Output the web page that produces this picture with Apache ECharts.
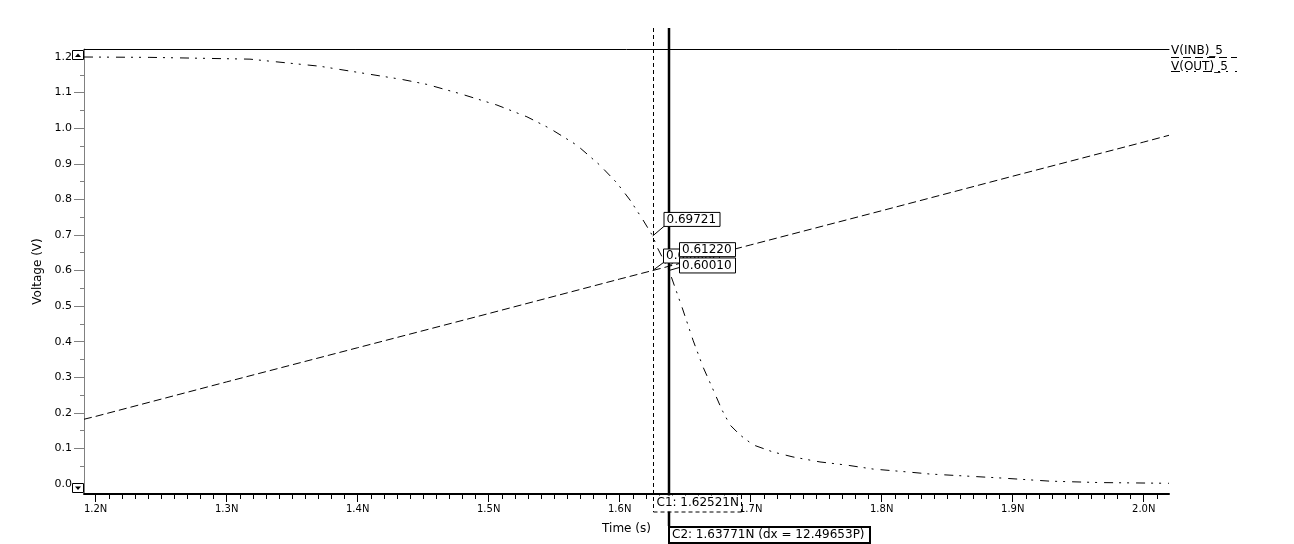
<!DOCTYPE html>
<html><head><meta charset="utf-8">
<script src="https://cdn.jsdelivr.net/npm/echarts@6/dist/echarts.min.js"></script>
<style>html,body{margin:0;padding:0;background:#fff;}#c{width:1294px;height:544px;}</style>
</head><body><div id="c"></div>
<script>
// ---- data (time in ns, voltage in V) ----
const seriesNames = ['V(INB)_5', 'V(OUT)_5'];
const inbTime = [1.1911, 1.2, 1.3, 1.4, 1.5, 1.6, 1.6252, 1.6377, 1.7, 1.8, 1.9, 2.0, 2.0193];
const inbV    = [0.182, 0.190, 0.287, 0.383, 0.479, 0.576, 0.600, 0.612, 0.672, 0.768, 0.865, 0.961, 0.980];
const outTime = [1.1911, 1.2414, 1.3178, 1.3712, 1.4338, 1.4529, 1.4781, 1.5063, 1.5292, 1.5468, 1.5674, 1.5849,
                 1.5979, 1.6079, 1.6178, 1.6252, 1.6285, 1.6377, 1.6437, 1.6483, 1.6560, 1.6636, 1.6705, 1.6781,
                 1.6842, 1.6918, 1.7018, 1.7170, 1.7323, 1.7529, 1.7735, 1.7934, 1.8193, 1.8369, 1.8903, 1.9284,
                 1.9666, 2.0193];
const outV    = [1.200, 1.199, 1.194, 1.174, 1.137, 1.123, 1.097, 1.065, 1.032, 0.999, 0.952, 0.896,
                 0.846, 0.798, 0.742, 0.697, 0.666, 0.600, 0.537, 0.489, 0.404, 0.329, 0.272, 0.208,
                 0.166, 0.138, 0.110, 0.090, 0.076, 0.062, 0.053, 0.042, 0.034, 0.028, 0.017, 0.008,
                 0.004, 0.002];
const xTickValues = [1.2, 1.3, 1.4, 1.5, 1.6, 1.7, 1.8, 1.9, 2.0];
const xTickLabels = ['1.2N', '1.3N', '1.4N', '1.5N', '1.6N', '1.7N', '1.8N', '1.9N', '2.0N'];
const yTickValues = [0.0, 0.1, 0.2, 0.3, 0.4, 0.5, 0.6, 0.7, 0.8, 0.9, 1.0, 1.1, 1.2];
const yTickLabels = ['0.0', '0.1', '0.2', '0.3', '0.4', '0.5', '0.6', '0.7', '0.8', '0.9', '1.0', '1.1', '1.2'];
const cursorNames = ['C1', 'C2'];
const cursorTimes = [1.62521, 1.63771];
const cursorTimeText = ['1.62521N', '1.63771N'];
const dxText = '12.49653P';
const readINB = ['0.60000', '0.61220'];
const readOUT = ['0.69721', '0.60010'];

const X_MIN = 1.1911, X_MAX = 2.0193, Y_MIN = -0.0281, Y_MAX = 1.2225;

const xMinor = [];
for (let i = 120; i <= 201; i++) { if (i % 10 !== 0) xMinor.push(i / 100); }
const yMinor = [];
for (let i = 0; i < 12; i++) yMinor.push(i / 10 + 0.05);

const FONT = 'DejaVu Sans';
const chart = echarts.init(document.getElementById('c'), null, { renderer: 'canvas' });

const zip = (a, b) => a.map((v, i) => [v, b[i]]);

chart.setOption({
  animation: false,
  backgroundColor: '#fff',
  grid: { left: 84, right: 125, top: 49, bottom: 50, containLabel: false },
  xAxis: [
    {
      type: 'value', min: X_MIN, max: X_MAX, position: 'bottom',
      axisLine: { show: true, onZero: false, lineStyle: { color: '#000', width: 2 } },
      axisTick: { show: true, customValues: xTickValues, length: 8, lineStyle: { color: '#000', width: 1 } },
      axisLabel: { show: true, customValues: xTickValues, margin: 10, color: '#000', fontFamily: FONT, fontSize: 10,
        formatter: v => { const i = xTickValues.findIndex(t => Math.abs(t - v) < 1e-6); return i >= 0 ? xTickLabels[i] : ''; } },
      splitLine: { show: false },
      name: 'Time (s)', nameLocation: 'middle', nameGap: 29,
      nameTextStyle: { color: '#000', fontFamily: FONT, fontSize: 12 }
    },
    {
      type: 'value', min: X_MIN, max: X_MAX, position: 'bottom',
      axisLine: { show: false, onZero: false },
      axisTick: { show: true, customValues: xMinor, length: 5, lineStyle: { color: '#000', width: 1 } },
      axisLabel: { show: false },
      splitLine: { show: false }
    },
    {
      type: 'value', min: X_MIN, max: X_MAX, position: 'top',
      axisLine: { show: true, onZero: false, lineStyle: { color: '#000', width: 1 } },
      axisTick: { show: false }, axisLabel: { show: false }, splitLine: { show: false }
    }
  ],
  yAxis: [
    {
      type: 'value', min: Y_MIN, max: Y_MAX, position: 'left',
      axisLine: { show: true, onZero: false, lineStyle: { color: '#808080', width: 1 } },
      axisTick: { show: true, customValues: yTickValues, length: 10, lineStyle: { color: '#808080', width: 1 } },
      axisLabel: { show: true, customValues: yTickValues, margin: 12, color: '#000', fontFamily: FONT, fontSize: 11,
        formatter: v => { const i = yTickValues.findIndex(t => Math.abs(t - v) < 1e-6); return i >= 0 ? yTickLabels[i] : ''; } },
      splitLine: { show: false },
      name: 'Voltage (V)', nameLocation: 'middle', nameGap: 39,
      nameTextStyle: { color: '#000', fontFamily: FONT, fontSize: 12 }
    },
    {
      type: 'value', min: Y_MIN, max: Y_MAX, position: 'left',
      axisLine: { show: false, onZero: false },
      axisTick: { show: true, customValues: yMinor, length: 4, lineStyle: { color: '#808080', width: 1 } },
      axisLabel: { show: false },
      splitLine: { show: false }
    }
  ],
  series: [
    {
      name: seriesNames[0], type: 'line', xAxisIndex: 0, yAxisIndex: 0, showSymbol: false, silent: true,
      data: zip(inbTime, inbV),
      lineStyle: { color: '#000', width: 1, type: [8, 4] }
    },
    {
      name: seriesNames[1], type: 'line', xAxisIndex: 0, yAxisIndex: 0, showSymbol: false, silent: true,
      data: zip(outTime, outV),
      lineStyle: { color: '#000', width: 1, type: [9, 6, 2, 6, 2, 7] }
    }
  ]
});

// ---- overlay decorations positioned through the chart's own scales ----
const px = (t, v) => chart.convertToPixel({ gridIndex: 0 }, [t, v]);
const tl = px(X_MIN, Y_MAX), br = px(X_MAX, Y_MIN);
const gLeft = tl[0], gTop = tl[1], gRight = br[0], gBottom = br[1];

const g = [];
const txt = (x, y, s, size, z, align) => ({ type: 'text', x: x, y: y, z: z || 20,
  style: { text: s, font: (size || 12) + 'px "' + FONT + '"', fill: '#000', textAlign: align || 'left', textVerticalAlign: 'middle', verticalAlign: 'middle' } });
const line = (x1, y1, x2, y2, w, dash, z) => ({ type: 'line', z: z || 10,
  shape: { x1, y1, x2, y2 }, style: { stroke: '#000', lineWidth: w || 1, lineDash: dash || null } });
const box = (x, y, w, h, lw, z) => ({ type: 'rect', z: z || 20,
  shape: { x, y, width: w, height: h }, style: { fill: '#fff', stroke: '#000', lineWidth: lw || 1 } });

// scroll arrows on y axis
g.push(box(gLeft - 11.5, gTop + 1.5, 11, 9, 1, 5));
g.push({ type: 'polygon', z: 6, shape: { points: [[gLeft - 9, gTop + 8], [gLeft - 3, gTop + 8], [gLeft - 6, gTop + 4.5]] }, style: { fill: '#000' } });
g.push(box(gLeft - 11.5, gBottom - 10.5, 11, 9, 1, 5));
g.push({ type: 'polygon', z: 6, shape: { points: [[gLeft - 9, gBottom - 7.5], [gLeft - 3, gBottom - 7.5], [gLeft - 6, gBottom - 4]] }, style: { fill: '#000' } });

// legend (top right)
g.push(txt(gRight + 2, gTop + 1.5, seriesNames[0], 12));
g.push(line(gRight + 2, gTop + 8.5, gRight + 68, gTop + 8.5, 1, [8, 4]));
g.push(txt(gRight + 2, gTop + 17.5, seriesNames[1], 12));
g.push(line(gRight + 2, gTop + 22.5, gRight + 68, gTop + 22.5, 1, [9, 6, 2, 6, 2, 7]));

// cursors
const c1x = Math.round(px(cursorTimes[0], 0)[0]) + 0.5;
const c2x = Math.round(px(cursorTimes[1], 0)[0]);
g.push(line(c1x, gTop - 21, c1x, gBottom + 18, 1, [4, 3], 8));
g.push(line(c2x, gTop - 21, c2x, gBottom + 32, 2.5, null, 9));

// C1 readout box (dashed, under the axis)
g.push({ type: 'rect', z: 15, shape: { x: c1x + 0.5, y: gBottom + 1.5, width: 87, height: 16 }, style: { fill: '#fff', stroke: null } });
g.push(line(c1x, gBottom + 18, c1x + 88, gBottom + 18, 1, [4, 3], 16));
g.push(line(c1x + 88, gBottom + 1, c1x + 88, gBottom + 18, 1, [4, 3], 16));
g.push(txt(c1x + 3, gBottom + 9, cursorNames[0] + ': ' + cursorTimeText[0], 12, 17));

// C2 readout box
g.push(box(c2x, gBottom + 33, 201, 16, 2, 20));
g.push(txt(c2x + 3, gBottom + 41, cursorNames[1] + ': ' + cursorTimeText[1] + ' (dx = ' + dxText + ')', 12, 21));

// value readouts at cursor crossings
const pOut1 = px(cursorTimes[0], parseFloat(readOUT[0]));
const pInb1 = px(cursorTimes[0], parseFloat(readINB[0]));
const pInb2 = px(cursorTimes[1], parseFloat(readINB[1]));
const pOut2 = px(cursorTimes[1], parseFloat(readOUT[1]));

// OUT @ C1
g.push(line(pOut1[0], pOut1[1], c1x + 11, pOut1[1] - 10, 1, null, 19));
g.push(box(c1x + 10.5, pOut1[1] - 23.5, 56, 14, 1, 20));
g.push(txt(c1x + 13, pOut1[1] - 16.5, readOUT[0], 12, 21));
// INB @ C1 (mostly hidden)
g.push(line(pInb1[0], pInb1[1], c1x + 10, pInb1[1] - 8, 1, null, 19));
g.push(box(c1x + 10, pInb1[1] - 21.5, 56, 14, 1, 22));
g.push(txt(c1x + 12.5, pInb1[1] - 14.5, readINB[0], 12, 23));
// INB @ C2
g.push(line(pInb2[0], pInb2[1], c2x + 10.5, pInb2[1] - 9, 1, null, 19));
g.push(box(c2x + 10.5, pInb2[1] - 23.5, 56, 14, 1, 24));
g.push(txt(c2x + 13, pInb2[1] - 16.5, readINB[1], 12, 25));
// OUT @ C2
g.push(line(pOut2[0], pOut2[1], c2x + 10.5, pOut2[1] - 3, 1, null, 19));
g.push(box(c2x + 10.5, pOut2[1] - 12.5, 56, 15, 1, 24));
g.push(txt(c2x + 13, pOut2[1] - 5, readOUT[1], 12, 25));

chart.setOption({ graphic: g });
</script>
</body></html>
